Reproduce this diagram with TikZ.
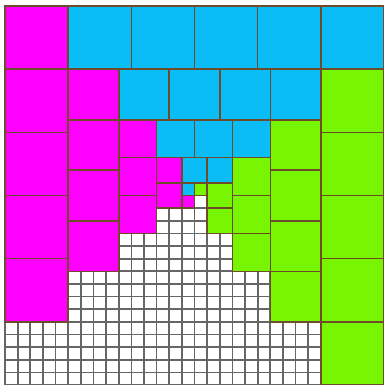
\documentclass[tikz,border=0pt]{standalone}
\usepackage{tikz}
\definecolor{sqpink}{HTML}{FF00FF}
\definecolor{sqblue}{HTML}{0ABEF5}
\definecolor{sqgreen}{HTML}{78F500}
\definecolor{sqedge}{HTML}{6E4B2A}
\tikzset{gridline/.style = {draw=black!60, line width=1.7pt},
         msq/.style = {draw=sqedge, line width=1.6pt, fill=sqpink},
         csq/.style = {draw=sqedge, line width=1.6pt, fill=sqblue},
         gsq/.style = {draw=sqedge, line width=1.6pt, fill=sqgreen},
}
\begin{document}
\begin{tikzpicture}[x=0.443cm, y=-0.443cm]

  \useasboundingbox (-0.4,-0.48) rectangle (30,30);

  % white unit cells underneath
  \fill[white] (0,0) rectangle (30,30);
  \foreach \i in {0,...,30}{
    \draw[gridline] (\i,0) -- (\i,30);
    \draw[gridline] (0,\i) -- (30,\i);
  }

  % rings of squares: offset/size
  \foreach \o/\s in {0/5, 5/4, 9/3, 12/2}{
    \foreach \k in {1,...,\s}{
      \filldraw[msq] (\o,{\o+(\k-1)*\s}) rectangle ++(\s,\s);
      \filldraw[csq] ({\o+\k*\s},\o) rectangle ++(\s,\s);
      \filldraw[gsq] ({\o+\s*\s},{\o+\k*\s}) rectangle ++(\s,\s);
    }
  }

  % innermost unit squares
  \filldraw[csq] (14,14) rectangle ++(1,1);
  \filldraw[gsq] (15,14) rectangle ++(1,1);
  \filldraw[msq] (14,15) rectangle ++(1,1);

\end{tikzpicture}
\end{document}
